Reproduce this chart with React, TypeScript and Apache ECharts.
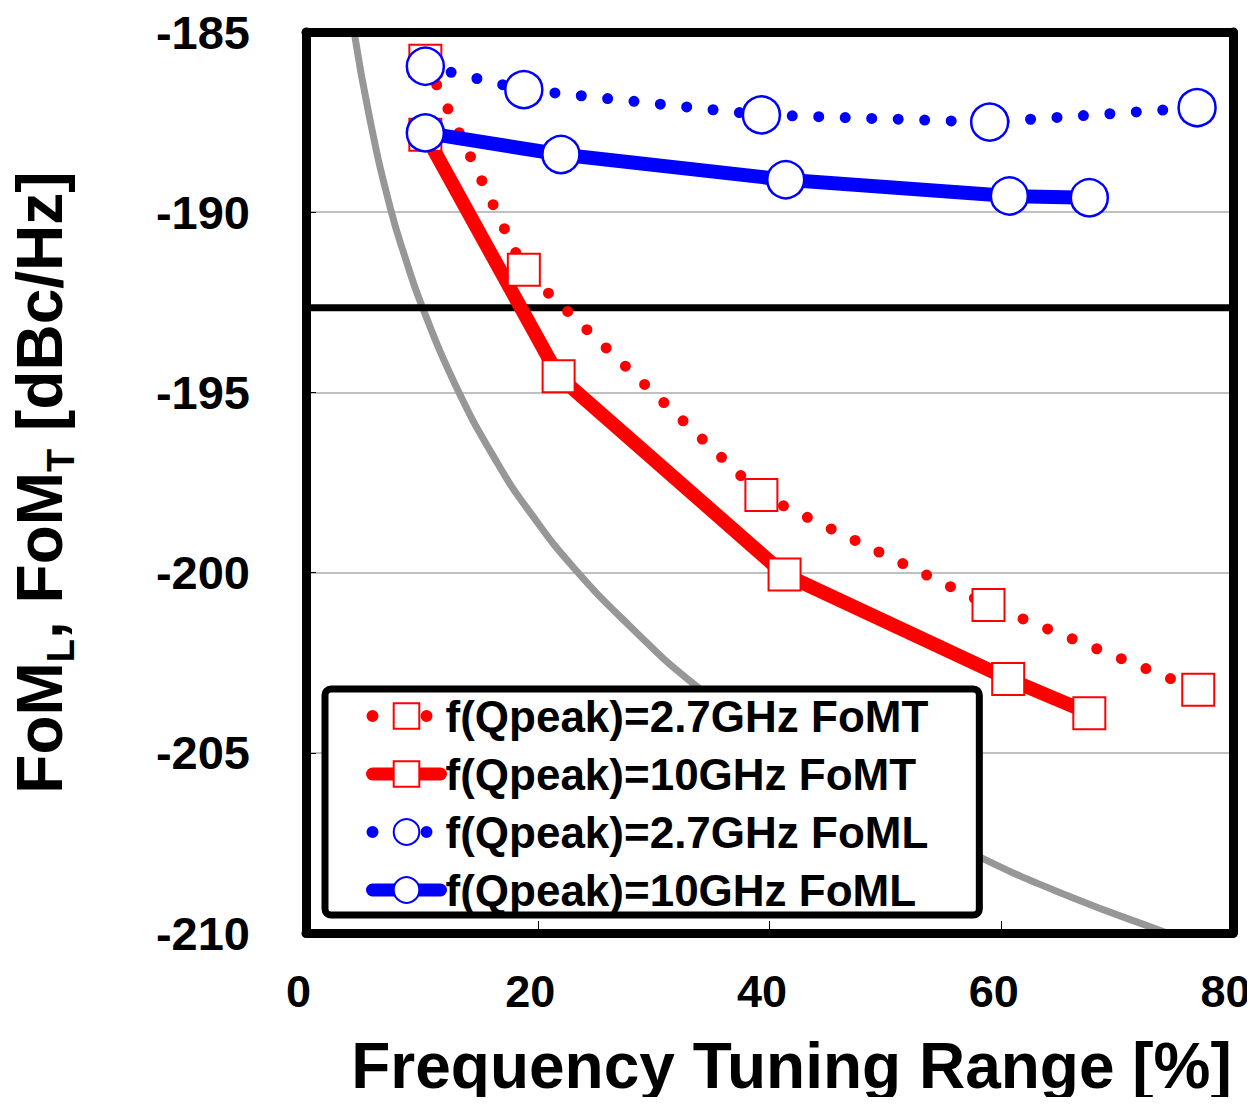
import React, { useEffect, useRef } from "react";
import * as echarts from "echarts";

// ---- data ----
const seriesNames = [
  "f(Qpeak)=2.7GHz FoMT",
  "f(Qpeak)=10GHz FoMT",
  "f(Qpeak)=2.7GHz FoML",
  "f(Qpeak)=10GHz FoML",
];

const ftr27T = [10.3, 18.8, 39.3, 58.9, 77.0];
const fom27T = [-185.8, -191.6, -197.85, -200.9, -203.25];

const ftr10T = [10.3, 21.8, 41.3, 60.6, 67.6];
const fom10T = [-187.85, -194.55, -200.05, -202.95, -203.9];

const ftr27L = [10.3, 18.8, 39.3, 59.0, 76.9];
const fom27L = [-185.95, -186.6, -187.3, -187.5, -187.1];

const ftr10L = [10.3, 22.0, 41.4, 60.7, 67.6];
const fom10L = [-187.8, -188.4, -189.1, -189.55, -189.6];

// grey boundary curve
const boundX = [4.1, 5.5, 7.25, 8.6, 10.0, 12.9, 16.5, 19.5, 23.2, 28, 33.3, 40, 48, 58.2, 66, 74.3, 78];
const boundY = [-184.9, -187.4, -189.85, -191.3, -192.6, -194.8, -196.95, -198.4, -199.9, -201.5, -203.05, -204.6, -206.2, -207.9, -209.0, -210.0, -210.45];

// horizontal black reference line
const refX = [0, 80];
const refY = -192.65;

const xMin = 0, xMax = 80, xStep = 20;
const yMin = -210, yMax = -185, yStep = 5;

const RED = "#ff0000";
const BLUE = "#0000ff";
const FONT = "'Liberation Sans', Arial, Helvetica, sans-serif";

const zip = (xs: number[], ys: number[]) => xs.map((x, i) => [x, ys[i]]);

export default function App() {
  const ref = useRef<HTMLDivElement>(null);

  useEffect(() => {
    if (!ref.current) return;
    const chart = echarts.init(ref.current, null, { renderer: "svg" });

    const borderAxis = {
      show: true,
      z: 10,
      axisLine: { show: true, onZero: false, lineStyle: { color: "#000", width: 9, cap: "round" } },
      axisTick: { show: false },
      axisLabel: { show: false },
      splitLine: { show: false },
    };

    const dotted = [0, 26.5];
    const legendDotted = [0, 54];

    const option: any = {
      animation: false,
      backgroundColor: "#fff",
      textStyle: { fontFamily: FONT, fontWeight: "bold", color: "#000" },
      grid: {
        left: 306,
        right: 22,
        top: 32,
        bottom: 172,
        containLabel: false,
        outerBoundsMode: "none",
      },
      legend: {
        show: true,
        orient: "vertical",
        left: 325,
        top: 689,
        padding: [5, 51, 3, 41],
        itemGap: 14,
        itemWidth: 68,
        itemHeight: 32,
        backgroundColor: "#fff",
        borderColor: "#000",
        borderWidth: 7,
        borderRadius: 6,
        z: 6,
        lineStyle: { width: "inherit" },
        textStyle: {
          fontFamily: FONT,
          fontWeight: "bold",
          fontSize: 44,
          lineHeight: 44,
          color: "#000",
        },
        data: [
          { name: seriesNames[0], lineStyle: { type: legendDotted, width: 12, cap: "round" } },
          { name: seriesNames[1], lineStyle: { width: 13, cap: "round" } },
          { name: seriesNames[2], lineStyle: { type: legendDotted, width: 12, cap: "round" } },
          { name: seriesNames[3], lineStyle: { width: 13, cap: "round" } },
        ],
      },
      xAxis: [
        {
          type: "value",
          position: "bottom",
          min: xMin,
          max: xMax,
          interval: xStep,
          name: "Frequency Tuning Range [%]",
          nameLocation: "middle",
          nameGap: 101,
          nameTextStyle: {
            fontFamily: FONT,
            fontWeight: "bold",
            fontSize: 64,
            color: "#000",
            padding: [0, 0, 0, 44],
          },
          axisLine: { show: false, onZero: false },
          axisTick: { show: true, inside: true, length: 12, lineStyle: { color: "#000", width: 1 } },
          axisLabel: {
            show: true,
            margin: 36,
            fontFamily: FONT,
            fontWeight: "bold",
            fontSize: 45,
            color: "#000",
            padding: [0, 15, 0, 0],
          },
          splitLine: { show: false },
        },
        { ...borderAxis, type: "value", position: "top", min: xMin, max: xMax, interval: xStep },
        { ...borderAxis, type: "value", position: "bottom", min: xMin, max: xMax, interval: xStep },
      ],
      yAxis: [
        {
          type: "value",
          position: "left",
          min: yMin,
          max: yMax,
          interval: yStep,
          name: "{m|FoM}{s|L}{m|, FoM}{s|T}{m| [dBc/Hz]}",
          nameLocation: "middle",
          nameRotate: 90,
          nameGap: 226,
          nameTextStyle: {
            fontFamily: FONT,
            fontWeight: "bold",
            fontSize: 64,
            color: "#000",
            rich: {
              m: { fontFamily: FONT, fontWeight: "bold", fontSize: 64, lineHeight: 80, color: "#000" },
              s: {
                fontFamily: FONT,
                fontWeight: "bold",
                fontSize: 38,
                lineHeight: 38,
                verticalAlign: "bottom",
                color: "#000",
              },
            },
          },
          axisLine: { show: false, onZero: false },
          axisTick: { show: true, inside: true, length: 10, lineStyle: { color: "#000", width: 1 } },
          axisLabel: {
            show: true,
            margin: 56,
            fontFamily: FONT,
            fontWeight: "bold",
            fontSize: 47,
            color: "#000",
          },
          splitLine: { show: true, lineStyle: { color: "#c0c0c0", width: 2 } },
        },
        { ...borderAxis, type: "value", position: "right", min: yMin, max: yMax, interval: yStep },
        { ...borderAxis, type: "value", position: "left", min: yMin, max: yMax, interval: yStep },
      ],
      series: [
        {
          name: "boundary",
          type: "line",
          data: zip(boundX, boundY),
          smooth: 0.5,
          showSymbol: false,
          symbol: "none",
          lineStyle: { color: "#979797", width: 7 },
          clip: true,
          silent: true,
          z: 1,
        },
        {
          name: "reference",
          type: "line",
          data: refX.map((x) => [x, refY]),
          showSymbol: false,
          symbol: "none",
          lineStyle: { color: "#000", width: 7 },
          silent: true,
          z: 1,
        },
        {
          name: seriesNames[0],
          type: "line",
          data: zip(ftr27T, fom27T),
          symbol: "rect",
          symbolSize: 32,
          showSymbol: true,
          itemStyle: { color: "#fff", borderColor: RED, borderWidth: 2 },
          lineStyle: { color: RED, width: 11, type: dotted, cap: "round" },
          z: 2,
        },
        {
          name: seriesNames[1],
          type: "line",
          data: zip(ftr10T, fom10T),
          symbol: "rect",
          symbolSize: 32,
          showSymbol: true,
          itemStyle: { color: "#fff", borderColor: RED, borderWidth: 2 },
          lineStyle: { color: RED, width: 14, cap: "round" },
          z: 2,
        },
        {
          name: seriesNames[2],
          type: "line",
          data: zip(ftr27L, fom27L),
          symbol: "circle",
          symbolSize: 37,
          showSymbol: true,
          itemStyle: { color: "#fff", borderColor: BLUE, borderWidth: 2.5 },
          lineStyle: { color: BLUE, width: 11, type: dotted, cap: "round" },
          z: 3,
        },
        {
          name: seriesNames[3],
          type: "line",
          data: zip(ftr10L, fom10L),
          symbol: "circle",
          symbolSize: 37,
          showSymbol: true,
          itemStyle: { color: "#fff", borderColor: BLUE, borderWidth: 2.5 },
          lineStyle: { color: BLUE, width: 14, cap: "round" },
          z: 3,
        },
      ],
    };

    chart.setOption(option);
    return () => chart.dispose();
  }, []);

  return <div ref={ref} style={{ width: 1255, height: 1105, margin: -8 }} />;
}
